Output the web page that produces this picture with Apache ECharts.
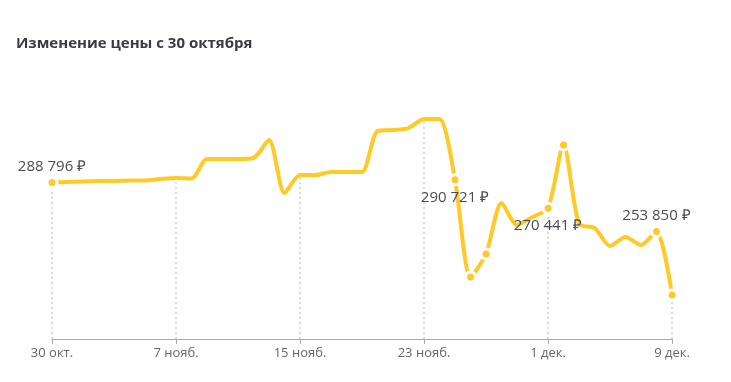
<!DOCTYPE html>
<html><head><meta charset="utf-8">
<script src="https://cdn.jsdelivr.net/npm/echarts@6/dist/echarts.min.js"></script>
<style>html,body{margin:0;padding:0;background:#fff}#c{width:731px;height:382px}</style>
</head><body><div id="c"></div>
<script>
var titleText = 'Изменение цены с 30 октября';
var categories = ['30 окт.','31 окт.','1 нояб.','2 нояб.','3 нояб.','4 нояб.','5 нояб.','6 нояб.','7 нояб.','8 нояб.',
  '9 нояб.','10 нояб.','11 нояб.','12 нояб.','13 нояб.','14 нояб.','15 нояб.','16 нояб.','17 нояб.','18 нояб.',
  '19 нояб.','20 нояб.','21 нояб.','22 нояб.','23 нояб.','24 нояб.','25 нояб.','26 нояб.','27 нояб.','28 нояб.',
  '29 нояб.','30 нояб.','1 дек.','2 дек.','3 дек.','4 дек.','5 дек.','6 дек.','7 дек.','8 дек.','9 дек.'];
var prices = [288796,289150,289500,289870,289900,290225,290225,291300,292010,291650,
  305580,305580,305580,306300,319150,281300,294150,294150,296300,296300,
  296300,325580,326300,327700,334150,334150,290721,221295,237725,274150,
  258440,264150,270441,315580,259150,256300,243440,249870,244150,253850,208440];
var markedIdx = [0,26,27,28,32,33,39,40];
var labelTop = [0,39];
var labelBottom = [26,32];
var tickIdx = [0,8,16,24,32,40];
var yMin = 177000, yMax = 377000;

function fmt(v){ return String(v).replace(/\B(?=(\d{3})+(?!\d))/g,' ') + ' ₽'; }

var seriesData = prices.map(function(v,i){
  var item = {value: v, symbol: markedIdx.indexOf(i) >= 0 ? 'circle' : 'none'};
  if (labelTop.indexOf(i) >= 0) item.label = {show: true, position: 'top', distance: 2};
  if (labelBottom.indexOf(i) >= 0) item.label = {show: true, position: 'bottom', distance: 4};
  return item;
});
var dropLines = tickIdx.map(function(i){
  return [{coord: [i, yMin]}, {coord: [i, prices[i]]}];
});

var chart = echarts.init(document.getElementById('c'));
chart.setOption({
  animation: false,
  title: {text: titleText, left: 11, top: 31,
    textStyle: {fontFamily: 'Open Sans', fontSize: 15, fontWeight: 'bold', color: '#3a3a45'}},
  grid: {left: 52, right: 59, top: 59, bottom: 43},
  xAxis: {type: 'category', data: categories, boundaryGap: false,
    axisLine: {lineStyle: {color: '#aaaaaa', width: 1}},
    axisTick: {interval: 7, length: 5, lineStyle: {color: '#aaaaaa'}},
    axisLabel: {interval: 7, margin: 8, fontFamily: 'Open Sans', fontSize: 13, color: '#666'},
    splitLine: {show: false}},
  yAxis: {type: 'value', min: yMin, max: yMax, show: false, splitLine: {show: false}},
  series: [{
    type: 'line', smooth: 0.25, data: seriesData, showAllSymbol: true,
    symbolSize: 10,
    lineStyle: {color: '#ffc926', width: 4},
    itemStyle: {color: '#ffc926', borderColor: '#fff', borderWidth: 3},
    label: {show: false, formatter: function(p){ return fmt(p.value); },
      fontFamily: 'Open Sans', fontSize: 15, color: '#4a4a55'},
    markLine: {silent: true, symbol: 'none', label: {show: false},
      lineStyle: {color: '#cfcfcf', type: [2,3], width: 1.5},
      data: dropLines, z: 1},
    z: 3
  }]
});
</script></body></html>
